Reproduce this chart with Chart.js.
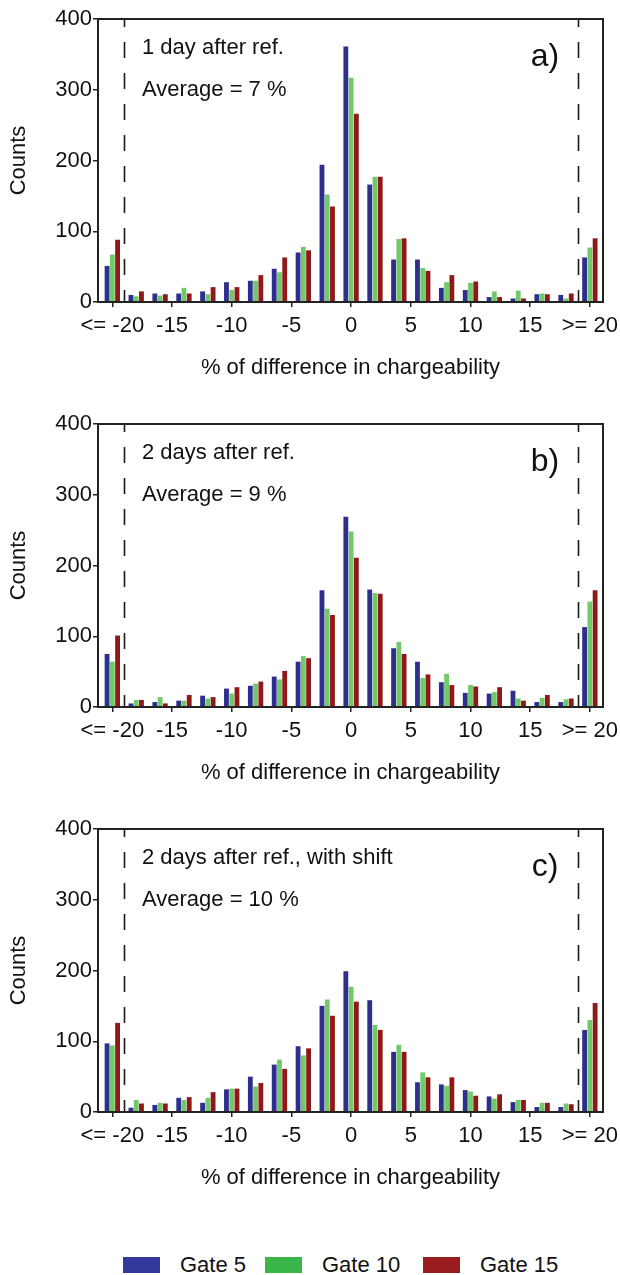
<!DOCTYPE html>
<html>
<head>
<meta charset="utf-8">
<script src="https://cdn.jsdelivr.net/npm/chart.js@4.4.0/dist/chart.umd.min.js"></script>
<style>
body { margin: 0; background: #fff; width: 620px; height: 1275px; position: relative; overflow: hidden; font-family: "Liberation Sans", Arial, sans-serif; }
canvas { position: absolute; left: 0; }
.lbox { position: absolute; top: 1257px; width: 37px; height: 16px; }
.ltext { position: absolute; top: 1252px; font-size: 22px; line-height: 26px; color: #111; }
</style>
</head>
<body>
<canvas id="chartA" width="620" height="400" style="top:0px"></canvas>
<canvas id="chartB" width="620" height="400" style="top:405px"></canvas>
<canvas id="chartC" width="620" height="400" style="top:810px"></canvas>

<div class="lbox" style="left:123px;background:#33399a"></div><div class="ltext" style="left:180px">Gate 5</div>
<div class="lbox" style="left:265px;background:#3ab54a"></div><div class="ltext" style="left:322px">Gate 10</div>
<div class="lbox" style="left:423px;background:#9a1c1f"></div><div class="ltext" style="left:480px">Gate 15</div>

<script>
// bin centres (% difference), outer bins are the <= -20 and >= 20 classes
const bins = [-20, -18, -16, -14, -12, -10, -8, -6, -4, -2, 0, 2, 4, 6, 8, 10, 12, 14, 16, 18, 20];
const xTickVals = [-20, -15, -10, -5, 0, 5, 10, 15, 20];
const xTickLabels = ['<= -20', '-15', '-10', '-5', '0', '5', '10', '15', '>= 20'];
const dashAt = [-19, 19];
const seriesNames = ['Gate 5', 'Gate 10', 'Gate 15'];
const seriesColors = ['#2e2f8d', '#72c96a', '#8f1919'];

// a) 1 day after ref.
const gate5A  = [51, 10, 12, 12, 15, 28, 30, 47, 70, 194, 361, 166, 60, 60, 20, 17, 7, 5, 11, 10, 63];
const gate10A = [67, 8, 9, 20, 11, 17, 30, 42, 78, 152, 317, 177, 89, 48, 28, 27, 15, 16, 12, 5, 77];
const gate15A = [88, 15, 11, 12, 21, 21, 38, 63, 73, 135, 266, 177, 90, 44, 38, 29, 7, 5, 11, 12, 90];

// b) 2 days after ref.
const gate5B  = [75, 5, 7, 9, 16, 26, 30, 43, 64, 165, 269, 166, 83, 64, 35, 20, 19, 23, 7, 7, 113];
const gate10B = [64, 10, 14, 9, 12, 19, 33, 39, 72, 139, 248, 161, 92, 41, 47, 31, 21, 12, 13, 11, 149];
const gate15B = [101, 10, 5, 17, 14, 28, 36, 51, 69, 130, 211, 160, 75, 46, 31, 29, 28, 9, 17, 12, 165];

// c) 2 days after ref., with shift
const gate5C  = [97, 6, 10, 20, 13, 32, 50, 67, 93, 150, 199, 158, 85, 42, 39, 31, 22, 14, 7, 7, 116];
const gate10C = [94, 17, 13, 17, 20, 33, 36, 74, 80, 159, 177, 123, 95, 56, 37, 29, 19, 17, 13, 12, 130];
const gate15C = [126, 12, 12, 21, 28, 33, 41, 61, 90, 136, 156, 116, 85, 49, 49, 23, 25, 17, 13, 11, 154];

const FONT = '"Liberation Sans", Arial, sans-serif';

const panelDecor = {
    id: 'panelDecor',
    afterDatasetsDraw(chart, args, opts) {
        const {ctx, chartArea: a} = chart;
        const x = chart.scales.x;
        ctx.save();
        ctx.strokeStyle = '#1a1a1a';
        ctx.lineWidth = 1.6;
        ctx.setLineDash([16, 15]);
        ctx.lineDashOffset = 8;
        for (const v of dashAt) {
            const px = Math.round(x.getPixelForValue(v)) + 0.5;
            ctx.beginPath();
            ctx.moveTo(px, a.top);
            ctx.lineTo(px, a.bottom);
            ctx.stroke();
        }
        ctx.setLineDash([]);
        ctx.strokeStyle = '#222';
        ctx.lineWidth = 2;
        ctx.strokeRect(a.left, a.top, a.right - a.left, a.bottom - a.top);

        ctx.fillStyle = '#111';
        ctx.textBaseline = 'middle';
        ctx.textAlign = 'left';
        ctx.font = '22px ' + FONT;
        ctx.fillText(opts.title, a.left + 44, a.top + 29);
        ctx.fillText(opts.avg, a.left + 44, a.top + 71);
        ctx.font = '32px ' + FONT;
        ctx.textAlign = 'center';
        ctx.fillText(opts.tag, a.right - 58, a.top + 38);
        ctx.restore();
    }
};

function makePanel(id, series, title, avg, tag) {
    const ctx = document.getElementById(id).getContext('2d');
    return new Chart(ctx, {
        type: 'bar',
        data: {
            datasets: series.map((vals, i) => ({
                label: seriesNames[i],
                data: bins.map((b, j) => ({x: b, y: vals[j]})),
                backgroundColor: seriesColors[i],
                borderWidth: 0,
                categoryPercentage: 0.66,
                barPercentage: 0.92
            }))
        },
        options: {
            responsive: false,
            animation: false,
            devicePixelRatio: 1,
            layout: {padding: {left: 0, top: 19, right: 17, bottom: 0}},
            plugins: {
                legend: {display: false},
                tooltip: {enabled: false},
                panelDecor: {title: title, avg: avg, tag: tag}
            },
            scales: {
                x: {
                    type: 'linear',
                    min: -21.2,
                    max: 21.1,
                    offset: false,
                    grid: {display: true, offset: false, drawOnChartArea: false, drawTicks: true, tickLength: 5, color: '#222', lineWidth: 1.5},
                    border: {display: false},
                    ticks: {
                        autoSkip: false,
                        maxRotation: 0,
                        padding: 6,
                        color: '#111',
                        font: {family: FONT, size: 22},
                        callback: (v, i) => xTickLabels[i]
                    },
                    afterBuildTicks: (scale) => {
                        scale.ticks = xTickVals.map(v => ({value: v}));
                    },
                    afterFit: (scale) => {
                        scale.height = 98;
                        scale.paddingLeft = 0;
                        scale.paddingRight = 0;
                    },
                    title: {
                        display: true,
                        text: '% of difference in chargeability',
                        color: '#111',
                        font: {family: FONT, size: 22},
                        padding: {top: 0, bottom: 19}
                    }
                },
                y: {
                    min: 0,
                    max: 400,
                    grid: {display: true, drawOnChartArea: false, drawTicks: true, tickLength: 5, color: '#222', lineWidth: 1.5},
                    border: {display: false},
                    ticks: {
                        stepSize: 100,
                        padding: 1,
                        color: '#111',
                        font: {family: FONT, size: 22}
                    },
                    afterFit: (scale) => {
                        scale.width = 98;
                        scale.paddingTop = 0;
                        scale.paddingBottom = 0;
                    },
                    title: {
                        display: true,
                        text: 'Counts',
                        color: '#111',
                        font: {family: FONT, size: 22},
                        padding: {top: 6, bottom: 0}
                    }
                }
            }
        },
        plugins: [panelDecor]
    });
}

makePanel('chartA', [gate5A, gate10A, gate15A], '1 day after ref.', 'Average = 7 %', 'a)');
makePanel('chartB', [gate5B, gate10B, gate15B], '2 days after ref.', 'Average = 9 %', 'b)');
makePanel('chartC', [gate5C, gate10C, gate15C], '2 days after ref., with shift', 'Average = 10 %', 'c)');
</script>
</body>
</html>
